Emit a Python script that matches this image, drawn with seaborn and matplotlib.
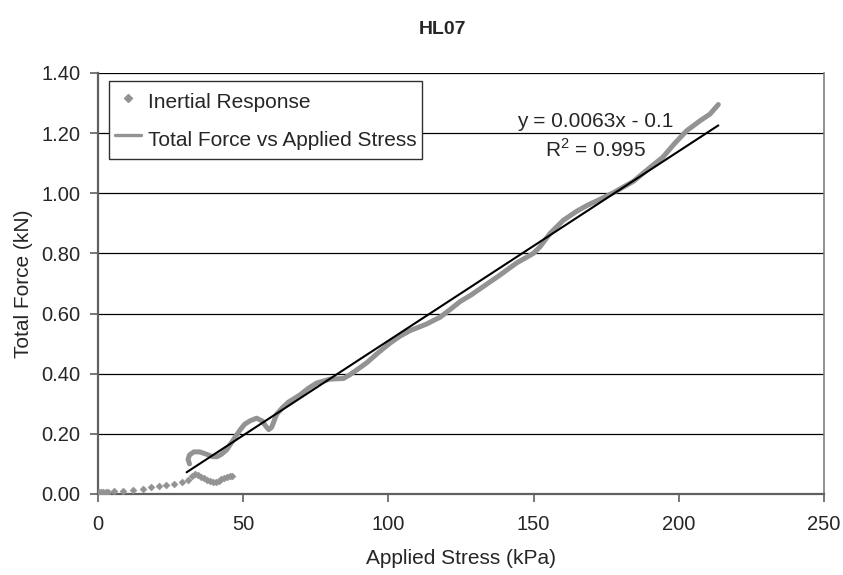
import matplotlib.pyplot as plt
from matplotlib.lines import Line2D
import numpy as np
import seaborn as sns

# Inertial Response (diamond markers)
inertial_x = [0.3, 1.0, 1.8, 2.6, 3.5, 5.4, 8.7, 12.0, 15.4, 18.4, 21.0, 23.5, 26.0,
              28.8, 31.0, 32.5, 33.5, 34.5, 35.5, 36.5, 37.5, 38.5, 39.5, 40.5, 41.5,
              42.5, 43.5, 44.5, 45.5, 46.3]
inertial_y = [0.006, 0.006, 0.005, 0.005, 0.006, 0.009, 0.011, 0.013, 0.018, 0.022,
              0.026, 0.029, 0.033, 0.040, 0.046, 0.060, 0.068, 0.063, 0.057, 0.052,
              0.047, 0.043, 0.040, 0.040, 0.044, 0.050, 0.054, 0.057, 0.059, 0.060]

# Total Force vs Applied Stress (thick grey line)
force_x = [31.5, 31.0, 31.5, 33.0, 35.0, 37.4, 39.5, 41.0, 42.5, 44.3, 46.6, 48.9,
           50.5, 52.3, 54.6, 56.5, 57.8, 58.8, 59.8, 61.5, 63.5, 65.5, 69.6, 72.5,
           75.3, 79.9, 84.5, 86.8, 92.5, 96.5, 100.6, 104.0, 107.4, 113.1, 117.8,
           121.2, 124.7, 128.5, 132.7, 138.4, 144.1, 149.9, 152.2, 155.6, 160.2,
           164.8, 168.5, 172.9, 177.5, 184.4, 190.0, 194.5, 198.5, 202.7, 207.3,
           210.7, 213.6]
force_y = [0.100, 0.115, 0.130, 0.140, 0.140, 0.132, 0.124, 0.124, 0.132, 0.147,
           0.180, 0.213, 0.232, 0.243, 0.252, 0.243, 0.225, 0.214, 0.222, 0.265,
           0.287, 0.305, 0.330, 0.352, 0.369, 0.382, 0.384, 0.397, 0.436, 0.470,
           0.502, 0.525, 0.543, 0.565, 0.588, 0.613, 0.640, 0.662, 0.690, 0.728,
           0.768, 0.800, 0.822, 0.866, 0.910, 0.940, 0.960, 0.980, 1.002, 1.040,
           1.085, 1.120, 1.165, 1.208, 1.241, 1.263, 1.295]

# linear trendline as drawn on the chart
trend_slope = 0.0063
trend_intercept = -0.12
trend_start, trend_end = 30.5, 213.6
trend_label = "y = 0.0063x - 0.1"
r2_label = "R$^2$ = 0.995"

x_ticks = [0, 50, 100, 150, 200, 250]
y_ticks = [0.0, 0.2, 0.4, 0.6, 0.8, 1.0, 1.2, 1.4]

grey = "#939393"

sns.set_style("white")
plt.rcParams["font.family"] = ["Liberation Sans", "DejaVu Sans"]
plt.rcParams["mathtext.fontset"] = "custom"
plt.rcParams["mathtext.rm"] = "Liberation Sans"

fig = plt.figure(figsize=(8.43, 5.75), dpi=100)
ax = fig.add_axes([0.1163, 0.1409, 0.8612, 0.7322])

ax.yaxis.grid(True, color="black", lw=0.9, zorder=0)
ax.set_axisbelow(True)

sns.lineplot(x=force_x, y=force_y, sort=False, estimator=None, color=grey,
             lw=3.6, ax=ax, zorder=3)
sns.scatterplot(x=inertial_x, y=inertial_y, marker="D", s=13, color=grey,
                edgecolor=grey, linewidth=0.3, ax=ax, zorder=3)

tx = np.array([trend_start, trend_end])
sns.lineplot(x=tx, y=trend_slope * tx + trend_intercept, color="black", lw=1.5,
             ax=ax, zorder=4)

ax.text(171.3, 1.238, trend_label, ha="center", va="center", fontsize=15)
ax.text(171.5, 1.144, r2_label, ha="center", va="center", fontsize=15)

ax.set_xlim(0, 250)
ax.set_ylim(0, 1.4)
ax.set_xticks(x_ticks)
ax.set_yticks(y_ticks)
ax.set_yticklabels([f"{v:.2f}" for v in y_ticks])
ax.tick_params(axis="both", direction="out", length=6, width=1.2, color="#606060",
               labelsize=14.5, left=True, bottom=True)
ax.tick_params(axis="y", pad=6.5)
ax.tick_params(axis="x", pad=9)

for side in ["left", "bottom"]:
    ax.spines[side].set_color("#606060")
    ax.spines[side].set_linewidth(1.6)
ax.spines["right"].set_color("#808080")
ax.spines["right"].set_linewidth(1.2)
ax.spines["top"].set_visible(False)

ax.set_xlabel("Applied Stress (kPa)", fontsize=15)
ax.set_ylabel("Total Force (kN)", fontsize=15)
ax.xaxis.set_label_coords(0.5, -0.13)
ax.yaxis.set_label_coords(-0.09, 0.5)

fig.text(442 / 843, 1 - 29 / 575, "HL07", ha="center", va="center",
         fontsize=14, fontweight="bold")

handles = [Line2D([], [], marker="D", ls="none", color=grey, markersize=3.8),
           Line2D([], [], color=grey, lw=2.4)]
leg = ax.legend(handles, ["Inertial Response", "Total Force vs Applied Stress"],
                loc="upper left", bbox_to_anchor=(0.0152, 0.981), borderaxespad=0,
                frameon=True, fancybox=False, framealpha=1, edgecolor="#303030",
                fontsize=15, labelspacing=0.45, handlelength=1.25,
                handleheight=1.7, handletextpad=0.3, borderpad=0.3)
leg.get_frame().set_linewidth(1.0)
leg.set_zorder(5)

fig.savefig("out.png", dpi=100)
